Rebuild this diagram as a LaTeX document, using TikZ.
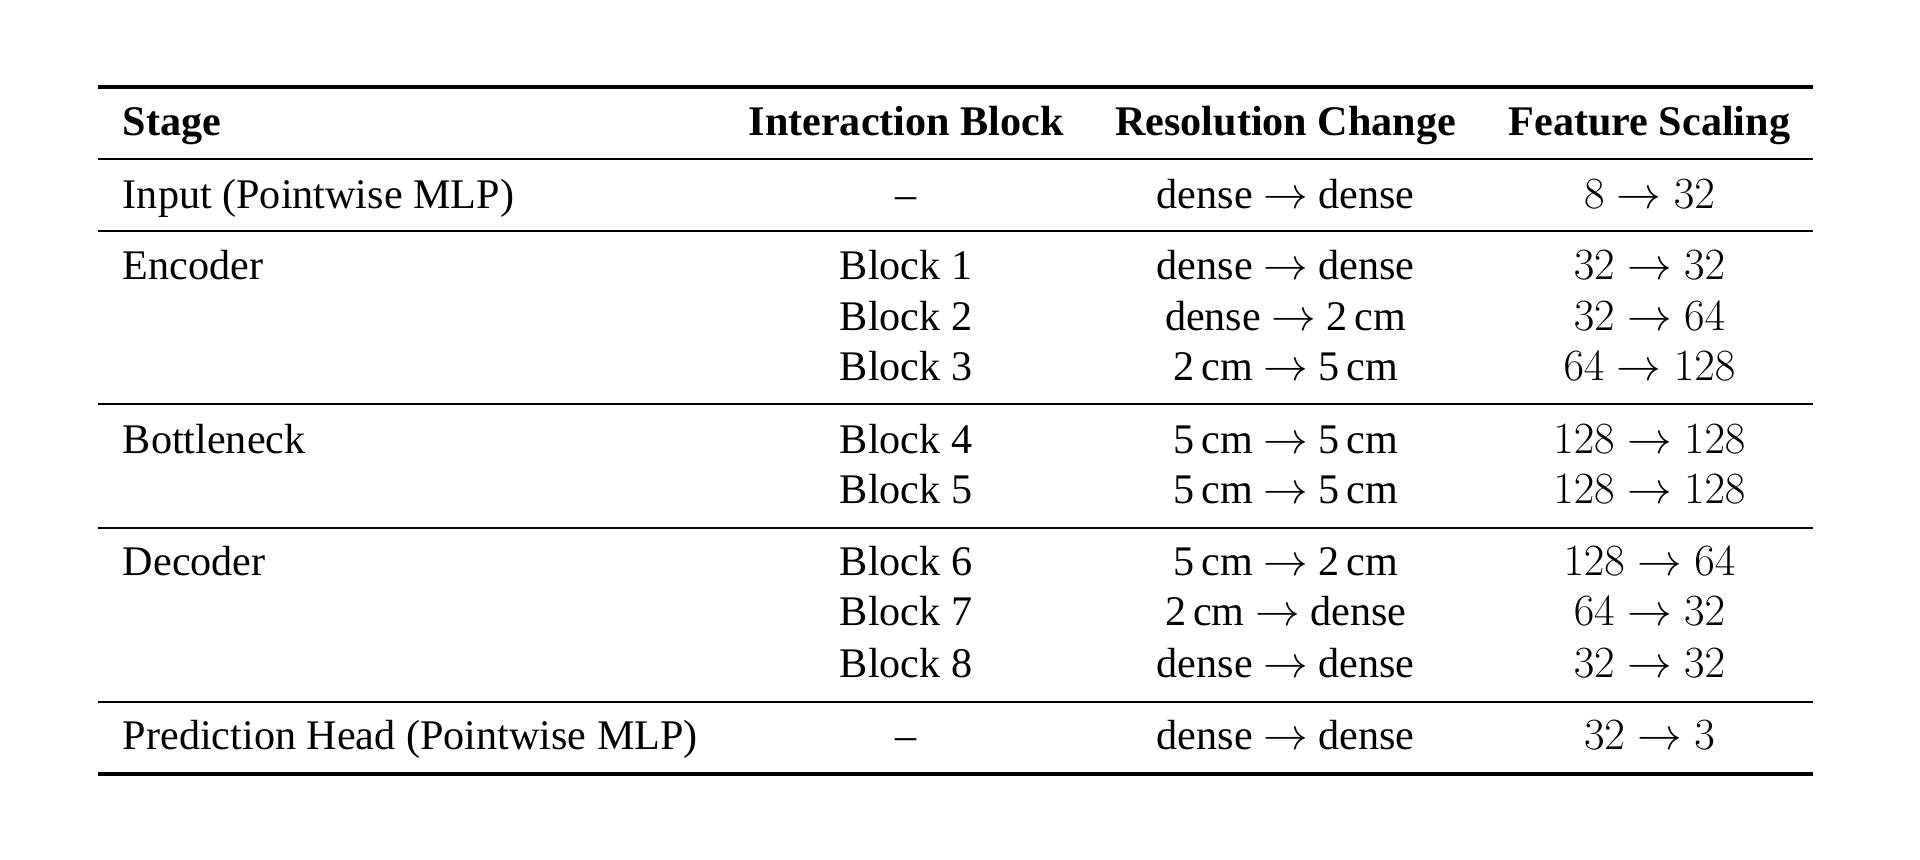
\documentclass[tikz,border=0pt]{standalone}
\usepackage{fontspec}
\setmainfont{Liberation Serif}
\usetikzlibrary{positioning}

\begin{document}
\begin{tikzpicture}[
    x=0.02cm, y=-0.02cm,
    every node/.style={font=\fontsize{19.6}{23}\selectfont, inner sep=0pt},
    hd/.style={font=\fontsize{19.6}{23}\selectfont\bfseries},
    stage/.style={anchor=base west},
    cell/.style={anchor=base},
    toprule/.style={line width=1.6pt},
    midrule/.style={line width=0.9pt}
]
\useasboundingbox (0,0) rectangle (1568,702);

% rules
\draw[toprule] (80,71) -- (1481,71);
\draw[midrule] (80,130) -- (1481,130);
\draw[midrule] (80,189) -- (1481,189);
\draw[midrule] (80,330) -- (1481,330);
\draw[midrule] (80,431) -- (1481,431);
\draw[midrule] (80,573) -- (1481,573);
\draw[toprule] (80,632) -- (1481,632);

% header
\node[hd, stage] (hstage) at (100,111) {Stage};
\node[hd, cell] (hblock) at (740,111) {Interaction Block};
\node[hd, cell] (hres) at (1050,111) {Resolution Change};
\node[hd, cell] (hfeat) at (1347,111) {Feature Scaling};

% rows
\foreach \y/\st/\bl/\res/\feat in {
    170/Input (Pointwise MLP)/--/dense $\rightarrow$ dense/$8\rightarrow32$,
    228/Encoder/Block 1/dense $\rightarrow$ dense/$32\rightarrow32$,
    270//Block 2/dense $\rightarrow$ 2\,cm/$32\rightarrow64$,
    311//Block 3/2\,cm $\rightarrow$ 5\,cm/$64\rightarrow128$,
    370/Bottleneck/Block 4/5\,cm $\rightarrow$ 5\,cm/$128\rightarrow128$,
    411//Block 5/5\,cm $\rightarrow$ 5\,cm/$128\rightarrow128$,
    470/Decoder/Block 6/5\,cm $\rightarrow$ 2\,cm/$128\rightarrow64$,
    511//Block 7/2\,cm $\rightarrow$ dense/$64\rightarrow32$,
    553//Block 8/dense $\rightarrow$ dense/$32\rightarrow32$,
    612/Prediction Head (Pointwise MLP)/--/dense $\rightarrow$ dense/$32\rightarrow3$}
{
    \node[stage] (st\y) at (100,\y) {\st};
    \node[cell] (bl\y) at (740,\y) {\bl};
    \node[cell] (res\y) at (1050,\y) {\res};
    \node[cell] (feat\y) at (1347,\y) {\feat};
}
\end{tikzpicture}
\end{document}
